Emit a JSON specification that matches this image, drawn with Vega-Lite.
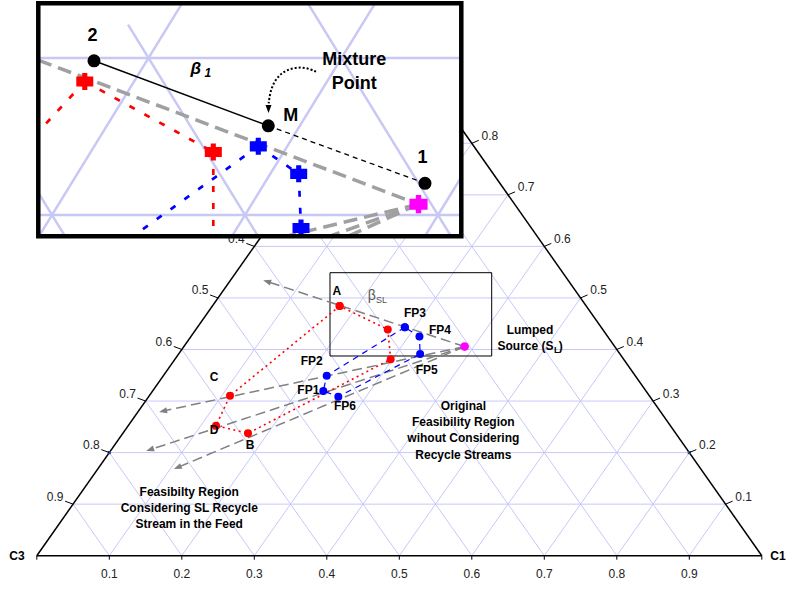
{
  "$schema": "https://vega.github.io/schema/vega-lite/v6.json",
  "width": 786,
  "height": 590,
  "padding": 0,
  "autosize": {"type": "none"},
  "background": "white",
  "config": {"view": {"stroke": null}, "font": "Liberation Sans"},
  "datasets": {
    "edges": [
      {"x": 0, "y": 0, "x2": 1, "y2": 0},
      {"x": 0, "y": 0, "x2": 0.5, "y2": 1},
      {"x": 1, "y": 0, "x2": 0.5, "y2": 1}
    ],
    "grid": [
      {"x": 0.05, "y": 0.1, "x2": 0.95, "y2": 0.1},
      {"x": 0.1, "y": 0.2, "x2": 0.9, "y2": 0.2},
      {"x": 0.15, "y": 0.3, "x2": 0.85, "y2": 0.3},
      {"x": 0.2, "y": 0.4, "x2": 0.8, "y2": 0.4},
      {"x": 0.25, "y": 0.5, "x2": 0.75, "y2": 0.5},
      {"x": 0.3, "y": 0.6, "x2": 0.7, "y2": 0.6},
      {"x": 0.35, "y": 0.7, "x2": 0.65, "y2": 0.7},
      {"x": 0.4, "y": 0.8, "x2": 0.6, "y2": 0.8},
      {"x": 0.45, "y": 0.9, "x2": 0.55, "y2": 0.9},
      {"x": 0.1, "y": 0, "x2": 0.55, "y2": 0.9},
      {"x": 0.2, "y": 0, "x2": 0.6, "y2": 0.8},
      {"x": 0.3, "y": 0, "x2": 0.65, "y2": 0.7},
      {"x": 0.4, "y": 0, "x2": 0.7, "y2": 0.6},
      {"x": 0.5, "y": 0, "x2": 0.75, "y2": 0.5},
      {"x": 0.6, "y": 0, "x2": 0.8, "y2": 0.4},
      {"x": 0.7, "y": 0, "x2": 0.85, "y2": 0.3},
      {"x": 0.8, "y": 0, "x2": 0.9, "y2": 0.2},
      {"x": 0.9, "y": 0, "x2": 0.95, "y2": 0.1},
      {"x": 0.1, "y": 0, "x2": 0.05, "y2": 0.1},
      {"x": 0.2, "y": 0, "x2": 0.1, "y2": 0.2},
      {"x": 0.3, "y": 0, "x2": 0.15, "y2": 0.3},
      {"x": 0.4, "y": 0, "x2": 0.2, "y2": 0.4},
      {"x": 0.5, "y": 0, "x2": 0.25, "y2": 0.5},
      {"x": 0.6, "y": 0, "x2": 0.3, "y2": 0.6},
      {"x": 0.7, "y": 0, "x2": 0.35, "y2": 0.7},
      {"x": 0.8, "y": 0, "x2": 0.4, "y2": 0.8},
      {"x": 0.9, "y": 0, "x2": 0.45, "y2": 0.9}
    ],
    "edgeDots": [
      {"x": 0.1, "y": 0.2},
      {"x": 0.9, "y": 0.2}
    ],
    "axisTicks": [
      {"side": "bottom", "x": 0, "y": 0, "label": ""},
      {"side": "bottom", "x": 0.1, "y": 0, "label": "0.1"},
      {"side": "bottom", "x": 0.2, "y": 0, "label": "0.2"},
      {"side": "bottom", "x": 0.3, "y": 0, "label": "0.3"},
      {"side": "bottom", "x": 0.4, "y": 0, "label": "0.4"},
      {"side": "bottom", "x": 0.5, "y": 0, "label": "0.5"},
      {"side": "bottom", "x": 0.6, "y": 0, "label": "0.6"},
      {"side": "bottom", "x": 0.7, "y": 0, "label": "0.7"},
      {"side": "bottom", "x": 0.8, "y": 0, "label": "0.8"},
      {"side": "bottom", "x": 0.9, "y": 0, "label": "0.9"},
      {"side": "bottom", "x": 1, "y": 0, "label": ""},
      {"side": "left", "x": 0.05, "y": 0.1, "label": "0.9"},
      {"side": "left", "x": 0.1, "y": 0.2, "label": "0.8"},
      {"side": "left", "x": 0.15, "y": 0.3, "label": "0.7"},
      {"side": "left", "x": 0.2, "y": 0.4, "label": "0.6"},
      {"side": "left", "x": 0.25, "y": 0.5, "label": "0.5"},
      {"side": "left", "x": 0.3, "y": 0.6, "label": "0.4"},
      {"side": "left", "x": 0.35, "y": 0.7, "label": ""},
      {"side": "left", "x": 0.4, "y": 0.8, "label": ""},
      {"side": "left", "x": 0.45, "y": 0.9, "label": ""},
      {"side": "right", "x": 0.95, "y": 0.1, "label": "0.1"},
      {"side": "right", "x": 0.9, "y": 0.2, "label": "0.2"},
      {"side": "right", "x": 0.85, "y": 0.3, "label": "0.3"},
      {"side": "right", "x": 0.8, "y": 0.4, "label": "0.4"},
      {"side": "right", "x": 0.75, "y": 0.5, "label": "0.5"},
      {"side": "right", "x": 0.7, "y": 0.6, "label": "0.6"},
      {"side": "right", "x": 0.65, "y": 0.7, "label": "0.7"},
      {"side": "right", "x": 0.6, "y": 0.8, "label": "0.8"},
      {"side": "right", "x": 0.55, "y": 0.9, "label": ""}
    ],
    "corners": [
      {"label": "C3", "x": -0.0273, "y": -0.0006},
      {"label": "C1", "x": 1.0224, "y": -0.0006}
    ],
    "zoomBox": [{"x": 0.40441, "x2": 0.62745, "y": 0.54898, "y2": 0.38739}],
    "source": [{"name": "SL", "x": 0.5901, "y": 0.4057}],
    "rays": [
      {"ray": 1, "seq": 0, "x": 0.5901, "y": 0.4057},
      {"ray": 1, "seq": 1, "x": 0.3175, "y": 0.532},
      {"ray": 2, "seq": 0, "x": 0.5901, "y": 0.4057},
      {"ray": 2, "seq": 1, "x": 0.1741, "y": 0.2806},
      {"ray": 3, "seq": 0, "x": 0.5901, "y": 0.4057},
      {"ray": 3, "seq": 1, "x": 0.1561, "y": 0.2056},
      {"ray": 4, "seq": 0, "x": 0.5901, "y": 0.4057},
      {"ray": 4, "seq": 1, "x": 0.1941, "y": 0.1711}
    ],
    "regions": [
      {"region": "recycle", "vertex": "A", "seq": 1, "x": 0.4177, "y": 0.4842},
      {"region": "recycle", "vertex": "C", "seq": 2, "x": 0.2665, "y": 0.3104},
      {"region": "recycle", "vertex": "D", "seq": 3, "x": 0.2472, "y": 0.2522},
      {"region": "recycle", "vertex": "B", "seq": 4, "x": 0.2913, "y": 0.2374},
      {"region": "recycle", "vertex": "R3", "seq": 5, "x": 0.4881, "y": 0.381},
      {"region": "recycle", "vertex": "R2", "seq": 6, "x": 0.4841, "y": 0.439},
      {"region": "recycle", "vertex": "A", "seq": 7, "x": 0.4177, "y": 0.4842},
      {"region": "original", "vertex": "FP3", "seq": 1, "x": 0.5076, "y": 0.4431},
      {"region": "original", "vertex": "FP2", "seq": 2, "x": 0.3999, "y": 0.3492},
      {"region": "original", "vertex": "FP1", "seq": 3, "x": 0.3952, "y": 0.3195},
      {"region": "original", "vertex": "FP6", "seq": 4, "x": 0.4159, "y": 0.3084},
      {"region": "original", "vertex": "FP5", "seq": 5, "x": 0.5287, "y": 0.3912},
      {"region": "original", "vertex": "FP4", "seq": 6, "x": 0.5278, "y": 0.4252},
      {"region": "original", "vertex": "FP3", "seq": 7, "x": 0.5076, "y": 0.4431}
    ],
    "pointLabels": [
      {"text": "A", "x": 0.4137, "y": 0.5135},
      {"text": "FP3", "x": 0.5217, "y": 0.4702},
      {"text": "FP4", "x": 0.5561, "y": 0.4378},
      {"text": "FP5", "x": 0.5378, "y": 0.3602},
      {"text": "FP2", "x": 0.3792, "y": 0.3783},
      {"text": "FP1", "x": 0.3745, "y": 0.3214},
      {"text": "FP6", "x": 0.4251, "y": 0.291},
      {"text": "C", "x": 0.2444, "y": 0.3472},
      {"text": "D", "x": 0.2444, "y": 0.2438},
      {"text": "B", "x": 0.2941, "y": 0.2147},
      {"text": "Lumped", "x": 0.6803, "y": 0.4378}
    ],
    "notes": [
      {"text": "Original\nFeasibility Region\nwihout Considering\nRecycle Streams", "x": 0.5883, "y": 0.291},
      {"text": "Feasibilty Region\nConsidering SL Recycle\nStream in the Feed", "x": 0.2103, "y": 0.1242}
    ],
    "sourceLabel": [
      {"part": "main", "text": "Source (S", "x": 0.7127, "y": 0.4068},
      {"part": "sub", "text": "L", "x": 0.7134, "y": 0.3991},
      {"part": "close", "text": ")", "x": 0.72, "y": 0.4068}
    ],
    "betaSL": [
      {"part": "main", "text": "β", "x": 0.4619, "y": 0.4953},
      {"part": "sub", "text": "SL", "x": 0.4679, "y": 0.4899}
    ],
    "insetFrame": [{"x": 0.3929, "x2": 0.61207, "y": 0.53484, "y2": 0.38643}],
    "insetGrid": [
      {"x": 0.3929, "y": 0.5, "x2": 0.6121, "y2": 0.5},
      {"x": 0.3929, "y": 0.4, "x2": 0.6121, "y2": 0.4},
      {"x": 0.3932, "y": 0.3864, "x2": 0.4674, "y2": 0.5348},
      {"x": 0.4932, "y": 0.3864, "x2": 0.5674, "y2": 0.5348},
      {"x": 0.5932, "y": 0.3864, "x2": 0.6121, "y2": 0.4242},
      {"x": 0.4068, "y": 0.3864, "x2": 0.3929, "y2": 0.4142},
      {"x": 0.5068, "y": 0.3864, "x2": 0.4394, "y2": 0.5213},
      {"x": 0.6068, "y": 0.3864, "x2": 0.5326, "y2": 0.5348}
    ],
    "insetSegments": [
      {"kind": "ray", "x": 0.3929, "y": 0.49866, "x2": 0.5899, "y2": 0.40688},
      {"kind": "ray", "x": 0.5899, "y": 0.40688, "x2": 0.52104, "y2": 0.3864},
      {"kind": "ray", "x": 0.5899, "y": 0.40688, "x2": 0.54368, "y2": 0.3864},
      {"kind": "ray", "x": 0.5899, "y": 0.40688, "x2": 0.55332, "y2": 0.3864},
      {"kind": "recycle", "x": 0.41699, "y": 0.48503, "x2": 0.3929, "y2": 0.4529},
      {"kind": "recycle", "x": 0.41699, "y": 0.48503, "x2": 0.48358, "y2": 0.44013},
      {"kind": "recycle", "x": 0.48358, "y": 0.44013, "x2": 0.48358, "y2": 0.3864},
      {"kind": "original", "x": 0.50689, "y": 0.44376, "x2": 0.44192, "y2": 0.3864},
      {"kind": "original", "x": 0.50689, "y": 0.44376, "x2": 0.52782, "y2": 0.42624},
      {"kind": "original", "x": 0.52782, "y": 0.42624, "x2": 0.52902, "y2": 0.39172},
      {"kind": "tie", "x": 0.42176, "y": 0.49822, "x2": 0.51207, "y2": 0.45682},
      {"kind": "lever", "x": 0.51207, "y": 0.45682, "x2": 0.59326, "y2": 0.42019}
    ],
    "insetPoints": [
      {"kind": "recycle", "name": "A", "x": 0.41699, "y": 0.48503},
      {"kind": "recycle", "name": "R2", "x": 0.48358, "y": 0.44013},
      {"kind": "original", "name": "FP3", "x": 0.50689, "y": 0.44376},
      {"kind": "original", "name": "FP4", "x": 0.52782, "y": 0.42624},
      {"kind": "original", "name": "FP5", "x": 0.52902, "y": 0.39172},
      {"kind": "source", "name": "SL", "x": 0.5899, "y": 0.40688},
      {"kind": "stream", "name": "2", "x": 0.42176, "y": 0.49822},
      {"kind": "stream", "name": "M", "x": 0.51207, "y": 0.45682},
      {"kind": "stream", "name": "1", "x": 0.59326, "y": 0.42019}
    ],
    "insetCurve": [
      {"seq": 1, "x": 0.53679, "y": 0.49127},
      {"seq": 2, "x": 0.53197, "y": 0.49382},
      {"seq": 3, "x": 0.52679, "y": 0.49408},
      {"seq": 4, "x": 0.52161, "y": 0.49236},
      {"seq": 5, "x": 0.51777, "y": 0.48917},
      {"seq": 6, "x": 0.51466, "y": 0.48389},
      {"seq": 7, "x": 0.51295, "y": 0.47752},
      {"seq": 8, "x": 0.51228, "y": 0.47115}
    ],
    "insetArrowTip": [{"x": 0.51218, "y": 0.46752}],
    "insetLabels": [
      {"role": "name", "text": "2", "x": 0.42098, "y": 0.51102},
      {"role": "name", "text": "M", "x": 0.52373, "y": 0.46006},
      {"role": "name", "text": "1", "x": 0.59197, "y": 0.43293},
      {"role": "name", "text": "Mixture", "x": 0.55658, "y": 0.49554},
      {"role": "name", "text": "Point", "x": 0.55658, "y": 0.48006},
      {"role": "symbol", "text": "β", "x": 0.47451, "y": 0.48949},
      {"role": "index", "text": "1", "x": 0.48073, "y": 0.48809}
    ]
  },
  "layer": [
    {
      "encoding": {
        "x": {"field": "x", "type": "quantitative", "scale": {"domain": [-0.05076, 1.03338], "nice": false, "zero": false}, "axis": null},
        "y": {"field": "y", "type": "quantitative", "scale": {"domain": [-0.06654, 1.07798], "nice": false, "zero": false}, "axis": null}
      },
      "layer": [
        {"data": {"name": "grid"}, "mark": {"type": "rule", "stroke": "#c8c8f8", "strokeWidth": 1}, "encoding": {"x2": {"field": "x2"}, "y2": {"field": "y2"}}},
        {"data": {"name": "edges"}, "mark": {"type": "rule", "stroke": "black", "strokeWidth": 1.5}, "encoding": {"x2": {"field": "x2"}, "y2": {"field": "y2"}}},
        {"data": {"name": "edgeDots"}, "mark": {"type": "square", "size": 10, "color": "#2a4a8a", "opacity": 1}},
        {"data": {"name": "axisTicks"}, "transform": [{"filter": "datum.side == 'bottom'"}], "mark": {"type": "point", "shape": "M0,0L0,0.5", "size": 256, "filled": false, "stroke": "black", "strokeWidth": 1, "opacity": 1}},
        {"data": {"name": "axisTicks"}, "transform": [{"filter": "datum.side == 'left'"}], "mark": {"type": "point", "shape": "M0,0L-1,-0.375", "size": 256, "filled": false, "stroke": "black", "strokeWidth": 1, "opacity": 1}},
        {"data": {"name": "axisTicks"}, "transform": [{"filter": "datum.side == 'right'"}], "mark": {"type": "point", "shape": "M0,0L0.875,-0.375", "size": 256, "filled": false, "stroke": "black", "strokeWidth": 1, "opacity": 1}},
        {"data": {"name": "axisTicks"}, "transform": [{"filter": "datum.side == 'bottom'"}], "mark": {"type": "text", "fontSize": 12, "color": "#222222", "align": "center", "baseline": "middle", "dy": 18.5}, "encoding": {"text": {"field": "label"}}},
        {"data": {"name": "axisTicks"}, "transform": [{"filter": "datum.side == 'left'"}], "mark": {"type": "text", "fontSize": 12, "color": "#222222", "align": "center", "baseline": "middle", "dx": -18, "dy": -7.5}, "encoding": {"text": {"field": "label"}}},
        {"data": {"name": "axisTicks"}, "transform": [{"filter": "datum.side == 'right'"}], "mark": {"type": "text", "fontSize": 12, "color": "#222222", "align": "center", "baseline": "middle", "dx": 18, "dy": -7.5}, "encoding": {"text": {"field": "label"}}},
        {"data": {"name": "corners"}, "mark": {"type": "text", "fontSize": 12, "fontWeight": "bold", "color": "black", "align": "center", "baseline": "middle"}, "encoding": {"text": {"field": "label"}}},
        {"data": {"name": "zoomBox"}, "mark": {"type": "rect", "fill": "white", "fillOpacity": 0, "stroke": "black", "strokeWidth": 1}, "encoding": {"x2": {"field": "x2"}, "y2": {"field": "y2"}}},
        {"data": {"name": "rays"}, "mark": {"type": "line", "stroke": "#808080", "strokeWidth": 1.5, "strokeDash": [10, 5]}, "encoding": {"detail": {"field": "ray"}, "order": {"field": "seq"}}},
        {"data": {"name": "rays"}, "transform": [{"filter": "datum.ray == 1 && datum.seq == 1"}], "mark": {"type": "point", "shape": "M0,-1L0.75,1L-0.75,1Z", "size": 64, "filled": true, "color": "#808080", "opacity": 1, "angle": 288.2}},
        {"data": {"name": "rays"}, "transform": [{"filter": "datum.ray == 2 && datum.seq == 1"}], "mark": {"type": "point", "shape": "M0,-1L0.75,1L-0.75,1Z", "size": 64, "filled": true, "color": "#808080", "opacity": 1, "angle": 257.9}},
        {"data": {"name": "rays"}, "transform": [{"filter": "datum.ray == 3 && datum.seq == 1"}], "mark": {"type": "point", "shape": "M0,-1L0.75,1L-0.75,1Z", "size": 64, "filled": true, "color": "#808080", "opacity": 1, "angle": 251.9}},
        {"data": {"name": "rays"}, "transform": [{"filter": "datum.ray == 4 && datum.seq == 1"}], "mark": {"type": "point", "shape": "M0,-1L0.75,1L-0.75,1Z", "size": 64, "filled": true, "color": "#808080", "opacity": 1, "angle": 247.2}},
        {"data": {"name": "regions"}, "transform": [{"filter": "datum.region == 'recycle'"}], "mark": {"type": "line", "stroke": "#ff0000", "strokeWidth": 1.6, "strokeDash": [2, 3.5]}, "encoding": {"order": {"field": "seq"}}},
        {"data": {"name": "regions"}, "transform": [{"filter": "datum.region == 'original'"}], "mark": {"type": "line", "stroke": "#0000ff", "strokeWidth": 1.2, "strokeDash": [6, 5]}, "encoding": {"order": {"field": "seq"}}},
        {"data": {"name": "regions"}, "transform": [{"filter": "datum.region == 'recycle'"}], "mark": {"type": "circle", "size": 64, "color": "#ff0000", "opacity": 1}},
        {"data": {"name": "regions"}, "transform": [{"filter": "datum.region == 'original'"}], "mark": {"type": "circle", "size": 64, "color": "#0000ff", "opacity": 1}},
        {"data": {"name": "source"}, "mark": {"type": "circle", "size": 75, "color": "#ff00ff", "opacity": 1}},
        {"data": {"name": "pointLabels"}, "mark": {"type": "text", "fontSize": 12, "fontWeight": "bold", "color": "black", "align": "center", "baseline": "middle"}, "encoding": {"text": {"field": "text"}}},
        {"data": {"name": "notes"}, "mark": {"type": "text", "fontSize": 12, "fontWeight": "bold", "color": "black", "align": "center", "baseline": "middle", "lineBreak": "\n", "lineHeight": 16.3}, "encoding": {"text": {"field": "text"}}},
        {"data": {"name": "sourceLabel"}, "transform": [{"filter": "datum.part == 'main'"}], "mark": {"type": "text", "fontSize": 12, "fontWeight": "bold", "color": "black", "align": "right", "baseline": "middle"}, "encoding": {"text": {"field": "text"}}},
        {"data": {"name": "sourceLabel"}, "transform": [{"filter": "datum.part == 'sub'"}], "mark": {"type": "text", "fontSize": 9, "fontWeight": "bold", "color": "black", "align": "left", "baseline": "middle"}, "encoding": {"text": {"field": "text"}}},
        {"data": {"name": "sourceLabel"}, "transform": [{"filter": "datum.part == 'close'"}], "mark": {"type": "text", "fontSize": 12, "fontWeight": "bold", "color": "black", "align": "left", "baseline": "middle"}, "encoding": {"text": {"field": "text"}}},
        {"data": {"name": "betaSL"}, "transform": [{"filter": "datum.part == 'main'"}], "mark": {"type": "text", "fontSize": 14, "color": "#555555", "align": "center", "baseline": "alphabetic"}, "encoding": {"text": {"field": "text"}}},
        {"data": {"name": "betaSL"}, "transform": [{"filter": "datum.part == 'sub'"}], "mark": {"type": "text", "fontSize": 9, "color": "#555555", "align": "left", "baseline": "alphabetic"}, "encoding": {"text": {"field": "text"}}}
      ]
    },
    {
      "encoding": {
        "x": {"field": "x", "type": "quantitative", "scale": {"domain": [0.37306, 0.78031], "nice": false, "zero": false}, "axis": null},
        "y": {"field": "y", "type": "quantitative", "scale": {"domain": [0.16115, 0.53694], "nice": false, "zero": false}, "axis": null}
      },
      "layer": [
        {"data": {"name": "insetFrame"}, "mark": {"type": "rect", "fill": "white", "strokeWidth": 0}, "encoding": {"x2": {"field": "x2"}, "y2": {"field": "y2"}}},
        {"data": {"name": "insetGrid"}, "mark": {"type": "rule", "stroke": "#c8c8f5", "strokeWidth": 2.5}, "encoding": {"x2": {"field": "x2"}, "y2": {"field": "y2"}}},
        {"data": {"name": "insetSegments"}, "transform": [{"filter": "datum.kind == 'ray'"}], "mark": {"type": "rule", "stroke": "#a0a0a0", "strokeWidth": 3.5, "strokeDash": [14, 7]}, "encoding": {"x2": {"field": "x2"}, "y2": {"field": "y2"}}},
        {"data": {"name": "insetSegments"}, "transform": [{"filter": "datum.kind == 'recycle'"}], "mark": {"type": "rule", "stroke": "#ff0000", "strokeWidth": 2.7, "strokeDash": [6, 11]}, "encoding": {"x2": {"field": "x2"}, "y2": {"field": "y2"}}},
        {"data": {"name": "insetSegments"}, "transform": [{"filter": "datum.kind == 'original'"}], "mark": {"type": "rule", "stroke": "#0000ff", "strokeWidth": 2.7, "strokeDash": [6, 11]}, "encoding": {"x2": {"field": "x2"}, "y2": {"field": "y2"}}},
        {"data": {"name": "insetSegments"}, "transform": [{"filter": "datum.kind == 'tie'"}], "mark": {"type": "rule", "stroke": "black", "strokeWidth": 1.5}, "encoding": {"x2": {"field": "x2"}, "y2": {"field": "y2"}}},
        {"data": {"name": "insetSegments"}, "transform": [{"filter": "datum.kind == 'lever'"}], "mark": {"type": "rule", "stroke": "black", "strokeWidth": 1.3, "strokeDash": [5, 4]}, "encoding": {"x2": {"field": "x2"}, "y2": {"field": "y2"}}},
        {"data": {"name": "insetCurve"}, "mark": {"type": "line", "stroke": "black", "strokeWidth": 2, "strokeDash": [2, 2], "interpolate": "basis"}, "encoding": {"order": {"field": "seq"}}},
        {"data": {"name": "insetArrowTip"}, "mark": {"type": "point", "shape": "M0,-1L0.75,1L-0.75,1Z", "size": 64, "filled": true, "color": "black", "opacity": 1, "angle": 180}},
        {"data": {"name": "insetPoints"}, "transform": [{"filter": "datum.kind == 'recycle'"}], "mark": {"type": "point", "shape": "M-0.3,-1L0.3,-1L0.3,-0.6L1,-0.6L1,0.6L0.3,0.6L0.3,1L-0.3,1L-0.3,0.6L-1,0.6L-1,-0.6L-0.3,-0.6Z", "size": 289, "filled": true, "color": "#ff0000", "opacity": 1}},
        {"data": {"name": "insetPoints"}, "transform": [{"filter": "datum.kind == 'original'"}], "mark": {"type": "point", "shape": "M-0.3,-1L0.3,-1L0.3,-0.6L1,-0.6L1,0.6L0.3,0.6L0.3,1L-0.3,1L-0.3,0.6L-1,0.6L-1,-0.6L-0.3,-0.6Z", "size": 289, "filled": true, "color": "#0000ff", "opacity": 1}},
        {"data": {"name": "insetPoints"}, "transform": [{"filter": "datum.kind == 'source'"}], "mark": {"type": "point", "shape": "M-0.3,-1L0.3,-1L0.3,-0.6L1,-0.6L1,0.6L0.3,0.6L0.3,1L-0.3,1L-0.3,0.6L-1,0.6L-1,-0.6L-0.3,-0.6Z", "size": 330, "filled": true, "color": "#ff00ff", "opacity": 1}},
        {"data": {"name": "insetPoints"}, "transform": [{"filter": "datum.kind == 'stream'"}], "mark": {"type": "circle", "size": 170, "color": "black", "opacity": 1}},
        {"data": {"name": "insetLabels"}, "transform": [{"filter": "datum.role == 'name'"}], "mark": {"type": "text", "fontSize": 18, "fontWeight": "bold", "color": "black", "align": "center", "baseline": "alphabetic"}, "encoding": {"text": {"field": "text"}}},
        {"data": {"name": "insetLabels"}, "transform": [{"filter": "datum.role == 'symbol'"}], "mark": {"type": "text", "fontSize": 17, "fontWeight": "bold", "fontStyle": "italic", "color": "black", "align": "center", "baseline": "alphabetic"}, "encoding": {"text": {"field": "text"}}},
        {"data": {"name": "insetLabels"}, "transform": [{"filter": "datum.role == 'index'"}], "mark": {"type": "text", "fontSize": 12, "fontWeight": "bold", "fontStyle": "italic", "color": "black", "align": "center", "baseline": "alphabetic"}, "encoding": {"text": {"field": "text"}}},
        {"data": {"name": "insetFrame"}, "mark": {"type": "rect", "fill": "white", "fillOpacity": 0, "stroke": "black", "strokeWidth": 4.5}, "encoding": {"x2": {"field": "x2"}, "y2": {"field": "y2"}}}
      ]
    }
  ],
  "resolve": {"scale": {"x": "independent", "y": "independent"}}
}
